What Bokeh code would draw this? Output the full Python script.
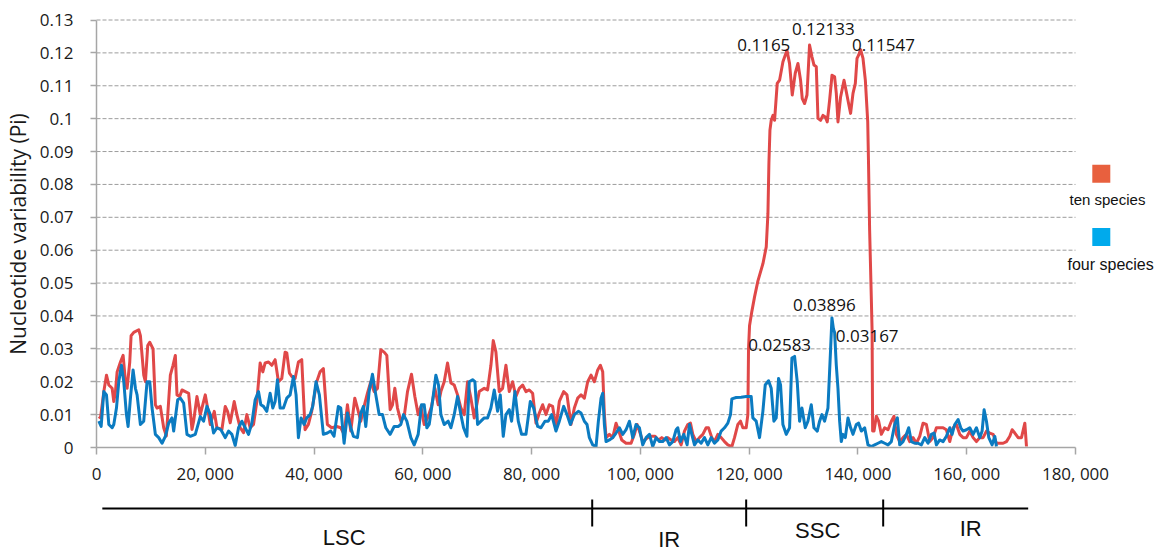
from bokeh.plotting import figure
from bokeh.models import Range1d, FixedTicker, ColumnDataSource
from bokeh.core.properties import value
from bokeh.embed import file_html
from bokeh.resources import INLINE

# ---------------- data ----------------
series_names = ["ten species", "four species"]

ten_pos = [
    428, 734, 1346, 1835, 2263, 2875, 3180, 3486, 3792, 4404,
    4893, 5321, 5627, 6116, 6361, 6850, 7767, 8073, 8685, 8991,
    9419, 9786, 10397, 10825, 11131, 11743, 12354, 12844, 13578, 14067,
    14495, 14801, 15290, 15718, 16330, 16941, 17553, 17859, 18470, 19082,
    19999, 20427, 20917, 21651, 22140, 23057, 23669, 24097, 24586, 25320,
    25810, 26421, 27033, 27644, 28256, 28868, 29479, 30091, 30580, 31008,
    31620, 32232, 32843, 33455, 34066, 34678, 34984, 35473, 35901, 36513,
    37124, 37736, 38347, 38959, 39570, 40488, 41100, 41712, 42446, 43241,
    44158,
    44911, 45525, 46138, 46752, 47488, 47979, 48592, 49206, 49819, 50433,
    51046, 51660, 52273, 52887, 53377, 53991, 54420, 54850, 55341, 55954,
    56568, 57181, 57917, 58531, 59144, 59635, 60249, 60985, 61598, 62212,
    62825, 63316, 63930, 64543, 65157, 65770, 66384, 66997, 67611, 68224,
    68838, 69451, 70371, 71292, 71905, 72519, 72948, 73439, 74052, 74666,
    75279, 75893, 76506, 77120, 77733, 78347, 78960, 79574, 80187, 80801,
    81414, 82028, 82641, 83255, 83868, 84482, 85095, 85893, 86506, 87243,
    87856, 88470,
    89085, 89699, 90312, 90926, 91539, 92153, 92643, 93073, 93380, 93686,
    94300, 94913, 95527, 95956, 96570, 97367, 98288, 98901, 99392, 99821,
    100435, 101355, 101969, 102705, 103318, 103932, 104545, 105036, 105650, 106263,
    106877, 107490, 108104, 108717, 109208, 109638, 110251, 110865, 111478, 112092,
    112521, 113135, 113625, 114239, 114852, 115466, 116079, 116815, 117306, 117920,
    118410, 118840, 119453, 119760, 119883, 120067, 120496,
    120990, 121600, 122530, 123140, 123450, 123630, 123820,
    124060, 124370, 124670, 125160, 125590, 126210, 126950, 127420, 127920, 128470,
    128970, 129450, 129760, 130190, 130630, 131100, 131550, 131920, 132340, 132650,
    133130, 133570, 134000, 134360, 134790, 135230, 135710, 136020, 136330, 136810,
    137440, 137860, 138280, 138650, 139090, 139520, 139830, 140120, 140490, 140930,
    141360, 141800,
    141950, 142150, 142450, 142600, 142700,
    142952, 143382, 143811, 144302, 144916, 145529, 146143, 146633, 147063, 147676,
    148290, 148903, 149517, 150130, 150744, 151357, 151971, 152584, 153198, 153811,
    154425, 155038, 155652, 156265, 156879, 157492, 158106, 158719, 159333, 159946,
    160560, 161173, 161787, 162400, 163014, 163627, 164241, 164854, 165468, 166081,
    166695, 167308, 167922, 168351, 168842, 169456, 170069, 170683, 170989,
]
ten_pi = [
    0.0094, 0.009, 0.017, 0.022, 0.019, 0.018, 0.014, 0.017, 0.023, 0.026,
    0.028, 0.020, 0.018, 0.026, 0.034, 0.035, 0.0358, 0.034, 0.022, 0.020,
    0.031, 0.032, 0.030, 0.013, 0.012, 0.0125, 0.006, 0.0035, 0.022, 0.025,
    0.028, 0.016, 0.0155, 0.0175, 0.017, 0.0165, 0.0055, 0.008, 0.0155, 0.010,
    0.016, 0.012, 0.007, 0.011, 0.006, 0.0055, 0.0125, 0.011, 0.0075, 0.014,
    0.010, 0.006, 0.0045, 0.010, 0.006, 0.007, 0.014, 0.0257, 0.023, 0.0257,
    0.026, 0.025, 0.0267, 0.020, 0.021, 0.029, 0.0288, 0.0226, 0.0216, 0.021,
    0.026, 0.0267, 0.0054, 0.007, 0.011, 0.020, 0.023, 0.024, 0.007, 0.006,
    0.0064,
    0.006, 0.004, 0.013, 0.005, 0.015, 0.012, 0.008, 0.0125, 0.0165, 0.020,
    0.017, 0.018, 0.0297, 0.029, 0.028, 0.0115, 0.013, 0.018, 0.012, 0.008,
    0.0094, 0.017, 0.0223, 0.0155, 0.010, 0.0125, 0.007, 0.0094, 0.0125, 0.018,
    0.013, 0.017, 0.020, 0.0257, 0.0196, 0.019, 0.016, 0.012, 0.010, 0.020,
    0.015, 0.009, 0.017, 0.018, 0.0175, 0.025, 0.0325, 0.029, 0.017, 0.018,
    0.025, 0.017, 0.020, 0.0155, 0.018, 0.019, 0.017, 0.0175, 0.0165, 0.0074,
    0.0105, 0.013, 0.010, 0.013, 0.0125, 0.006, 0.014, 0.017, 0.016, 0.007,
    0.012, 0.015,
    0.016, 0.015, 0.020, 0.022, 0.020, 0.0236, 0.025, 0.023, 0.010, 0.003,
    0.004, 0.003, 0.0074, 0.0054, 0.0023, 0.0013, 0.0013, 0.004, 0.007, 0.005,
    0.0018, 0.003, 0.0034, 0.0034, 0.0023, 0.003, 0.0023, 0.003, 0.0023, 0.0018,
    0.003, 0.0008, 0.005, 0.007, 0.0074, 0.004, 0.0018, 0.003, 0.004, 0.006,
    0.006, 0.003, 0.0018, 0.004, 0.003, 0.0018, 0.0008, 0.0003, 0.003, 0.007,
    0.008, 0.006, 0.006, 0.010, 0.030, 0.037, 0.0414,
    0.0458, 0.0506, 0.0559, 0.061, 0.0711, 0.0864, 0.0965,
    0.0995, 0.101, 0.0995, 0.1107, 0.1117, 0.1173, 0.1208, 0.1168, 0.1072, 0.1138,
    0.1168, 0.1117, 0.1061, 0.1046, 0.1072, 0.1224, 0.1188, 0.1163, 0.1158, 0.1001,
    0.0995, 0.101, 0.1005, 0.099, 0.1056, 0.1132, 0.1127, 0.1077, 0.099, 0.1066,
    0.1117, 0.1082, 0.1046, 0.1016, 0.1077, 0.1107, 0.1183, 0.1193, 0.121, 0.1183,
    0.1117, 0.099,
    0.086, 0.066, 0.046, 0.0356, 0.005,
    0.005, 0.0095, 0.008, 0.004, 0.006, 0.0054, 0.008, 0.0095, 0.004, 0.0018,
    0.003, 0.004, 0.0018, 0.003, 0.0013, 0.0034, 0.0074, 0.007, 0.0018, 0.003,
    0.006, 0.006, 0.006, 0.0054, 0.0018, 0.006, 0.007, 0.004, 0.003, 0.003,
    0.005, 0.003, 0.0018, 0.003, 0.003, 0.005, 0.0044, 0.004, 0.0013, 0.0013,
    0.0013, 0.0018, 0.0034, 0.0054, 0.0044, 0.003, 0.003, 0.0074, 0.0003,
]

four_pos = [
    428, 856, 1346, 1835, 2263, 2875, 3180, 3670, 4098, 4587,
    5015, 5504, 5810, 6239, 6728, 7156, 7462, 8073, 8685, 9296,
    9786, 10214, 10825, 11437, 12049, 12660, 13272, 13884, 14189, 14923,
    15412, 16024, 16636, 17247, 18165, 19082, 19694, 20305, 20917, 21528,
    22140, 22874, 23669, 24281, 24892, 25504, 26115, 26727, 27338, 27950,
    28562, 29173, 29785, 30213, 30703, 31314, 31926, 32415, 32843, 33271,
    33761, 34372, 34984, 35595, 36207, 36696, 37124, 37613, 38164, 38653,
    39265, 39754, 40366, 40977, 41712, 42446, 43057, 43669, 44464,
    44911, 45525, 46138, 46752, 47242, 47979, 48592, 49083, 49512, 50126,
    50739, 51353, 51966, 52580, 53193, 53991, 54727, 55463, 55954, 56445,
    57058, 57795, 58408, 59144, 59758, 60249, 60739, 61169, 61782, 62396,
    62887, 63316, 63930, 64665, 65157, 65770, 66384, 66997, 67488, 68102,
    68531, 69144, 69574, 70065, 70678, 71292, 71905, 72519, 73132, 73746,
    74236, 74788, 75279, 75893, 76322, 76936, 77549, 78163, 78960, 79758,
    80371, 81108, 81721, 82457, 83071, 83684, 84482, 85095, 85893, 86506,
    87120, 87856, 88592,
    89085, 89699, 90189, 90619, 91232, 91846, 92275, 92766, 93073, 93380,
    93686, 94300, 94913, 95527, 96140, 96754, 97367, 97981, 98594, 99208,
    99821, 100435, 101048, 101662, 102275, 102889, 103502, 104116, 104729, 105343,
    105956, 106570, 106877, 107367, 107981, 108594, 109024, 109453, 109944, 110558,
    111171, 111785, 112398, 113012, 113625, 114239, 114852, 115466, 116079, 116570,
    116815, 117613, 118533, 119453, 120374, 120680, 121294, 121907, 122521, 122950,
    123564, 124055, 124545, 124975, 125404, 125772, 126202, 126815, 127429, 127858,
    128349, 128840, 129269, 129699, 130312, 130803, 131417, 131907, 132521, 132950,
    133380, 133870,
    134484, 134975, 135220, 135500, 135713,
    136020, 136327, 136633, 136940, 137247, 137676, 138167, 138658, 139087, 139701,
    140130, 140621, 141235, 141848, 142462, 143075, 143689, 144302, 144916, 145529,
    146143, 146756, 147247, 147676, 148290, 148903, 149333, 149824, 150437, 151051,
    151664, 152278, 152891, 153505, 153995, 154425, 155038, 155652, 156265, 156879,
    157308, 157799, 158413, 158903, 159333, 159946, 160560, 161173, 161787, 162400,
    162830, 163198, 163627, 164057, 164670, 165161, 165468,
]
four_pi = [
    0.008, 0.0064, 0.017, 0.016, 0.007, 0.006, 0.007, 0.012, 0.020, 0.025,
    0.020, 0.010, 0.0064, 0.015, 0.0236, 0.018, 0.016, 0.007, 0.008, 0.020,
    0.020, 0.012, 0.004, 0.003, 0.0013, 0.0034, 0.0074, 0.009, 0.005, 0.0145,
    0.015, 0.0135, 0.004, 0.0034, 0.004, 0.0094, 0.008, 0.0125, 0.010, 0.0044,
    0.006, 0.0054, 0.003, 0.005, 0.004, 0.0006, 0.006, 0.008, 0.006, 0.004,
    0.0074, 0.0145, 0.017, 0.013, 0.0125, 0.011, 0.0165, 0.012, 0.014, 0.0206,
    0.012, 0.012, 0.015, 0.016, 0.0216, 0.016, 0.003, 0.009, 0.007, 0.009,
    0.010, 0.0125, 0.020, 0.016, 0.004, 0.0044, 0.005, 0.0034, 0.0125,
    0.012, 0.0013, 0.0105, 0.006, 0.0034, 0.003, 0.0105, 0.0125, 0.0064, 0.017,
    0.0223, 0.016, 0.010, 0.010, 0.006, 0.004, 0.0064, 0.0064, 0.007, 0.010,
    0.008, 0.003, 0.0008, 0.004, 0.013, 0.013, 0.006, 0.007, 0.014, 0.022,
    0.019, 0.010, 0.007, 0.008, 0.006, 0.010, 0.0155, 0.010, 0.006, 0.0034,
    0.020, 0.0206, 0.020, 0.007, 0.008, 0.009, 0.009, 0.012, 0.0175, 0.011,
    0.016, 0.0034, 0.010, 0.0115, 0.008, 0.017, 0.008, 0.004, 0.004, 0.014,
    0.012, 0.0064, 0.006, 0.008, 0.008, 0.010, 0.005, 0.008, 0.0125, 0.010,
    0.007, 0.010, 0.011,
    0.0105, 0.008, 0.007, 0.003, 0.0008, 0.0003, 0.008, 0.015, 0.0165, 0.007,
    0.0018, 0.0023, 0.003, 0.0044, 0.006, 0.004, 0.0054, 0.008, 0.003, 0.007,
    0.006, 0.0008, 0.003, 0.004, 0.0003, 0.003, 0.0018, 0.0018, 0.003, 0.0008,
    0.0018, 0.0054, 0.006, 0.0018, 0.004, 0.0008, 0.007, 0.004, 0.0008, 0.0023,
    0.0013, 0.003, 0.0008, 0.003, 0.0013, 0.0023, 0.005, 0.006, 0.0074, 0.010,
    0.0148, 0.0152, 0.0153, 0.0155, 0.0155, 0.009, 0.008, 0.003, 0.011, 0.019,
    0.0203, 0.018, 0.008, 0.009, 0.021, 0.019, 0.007, 0.004, 0.006, 0.0272,
    0.0277, 0.020, 0.008, 0.012, 0.006, 0.008, 0.013, 0.006, 0.005, 0.008,
    0.010, 0.008,
    0.012, 0.030, 0.0394, 0.036, 0.035,
    0.025, 0.018, 0.008, 0.0018, 0.004, 0.003, 0.009, 0.006, 0.004, 0.007,
    0.0074, 0.005, 0.006, 0.0008, 0.0003, 0.0008, 0.0013, 0.0018, 0.0013, 0.0008,
    0.0018, 0.007, 0.009, 0.0008, 0.0018, 0.004, 0.006, 0.0018, 0.0013, 0.0013,
    0.0008, 0.003, 0.0013, 0.004, 0.0044, 0.0008, 0.0023, 0.0018, 0.0034, 0.006,
    0.004, 0.007, 0.0085, 0.006, 0.005, 0.0054, 0.006, 0.004, 0.006, 0.003,
    0.005, 0.0115, 0.008, 0.003, 0.0008, 0.0034, 0.0003,
]

x_ticks = [0, 20000, 40000, 60000, 80000, 100000, 120000, 140000, 160000, 180000]
x_tick_labels = ["0", "20, 000", "40, 000", "60, 000", "80, 000", "100, 000",
                 "120, 000", "140, 000", "160, 000", "180, 000"]
y_ticks = [0, 0.01, 0.02, 0.03, 0.04, 0.05, 0.06, 0.07, 0.08, 0.09, 0.1, 0.11, 0.12, 0.13]
y_tick_labels = ["0", "0.01", "0.02", "0.03", "0.04", "0.05", "0.06", "0.07", "0.08",
                 "0.09", "0.1", "0.11", "0.12", "0.13"]

peak_labels = ["0.1165", "0.12133", "0.11547", "0.03896", "0.02583", "0.03167"]

region_names = ["LSC", "IR", "SSC", "IR"]
region_bounds = [1070, 91140, 119450, 144640, 171300]

# ---------------- layout (pixels) ----------------
W, H = 1161, 552
AXIS_LEFT_PX = 96
AXIS_RIGHT_PX = 1075
Y_ZERO_PX = 447
Y_TOP_PX = 19.5
X_MAX = 180000
Y_MAX = 0.13

px_per_x = (AXIS_RIGHT_PX - AXIS_LEFT_PX) / X_MAX
px_per_y = (Y_ZERO_PX - Y_TOP_PX) / Y_MAX


def X(px):
    return (px - AXIS_LEFT_PX) / px_per_x


def Y(py):
    return (Y_ZERO_PX - py) / px_per_y


RED = "#E04848"
BLUE = "#0B7BC1"
RED_KEY = "#E8603E"
BLUE_KEY = "#00AAEC"
GRID = "#9c9c9c"
AXIS = "#a6a6a6"
NUM_FONT = "Open Sans"
SANS = "Liberation Sans"

# the frame covers the whole canvas; both axes sit at fixed data positions
p = figure(width=W, height=H,
           x_range=Range1d(X(0), X(W)), y_range=Range1d(Y(H), Y(0)),
           min_border=0,
           output_backend="svg", toolbar_location=None)
p.outline_line_color = None
p.background_fill_color = "white"
p.border_fill_color = "white"
p.xgrid.visible = False
p.ygrid.visible = False

# dashed horizontal gridlines over the data area
g = y_ticks[1:]
p.segment(x0=[0] * len(g), x1=[X_MAX] * len(g), y0=g, y1=g,
          line_color=GRID, line_width=1, line_dash="4 2")

# x axis at y = 0
xa = p.xaxis[0]
xa.fixed_location = 0
xa.bounds = (0, X_MAX)
xa.ticker = FixedTicker(ticks=x_ticks)
xa.major_label_overrides = {t: l for t, l in zip(x_ticks, x_tick_labels)}
xa.minor_tick_line_color = None
xa.major_tick_in = 0
xa.major_tick_out = 7
xa.major_tick_line_color = AXIS
xa.major_tick_line_width = 1.5
xa.axis_line_color = AXIS
xa.axis_line_width = 1.5
xa.major_label_text_font = NUM_FONT
xa.major_label_text_font_size = "17px"
xa.major_label_text_color = "#1a1a1a"
xa.major_label_standoff = 7

# y axis at x = 0
ya = p.yaxis[0]
ya.fixed_location = 0
ya.bounds = (0, Y_MAX)
ya.ticker = FixedTicker(ticks=y_ticks)
ya.major_label_overrides = {t: l for t, l in zip(y_ticks, y_tick_labels)}
ya.minor_tick_line_color = None
ya.major_tick_in = 0
ya.major_tick_out = 6
ya.major_tick_line_color = AXIS
ya.major_tick_line_width = 1.5
ya.axis_line_color = AXIS
ya.axis_line_width = 1.5
ya.major_label_text_font = NUM_FONT
ya.major_label_text_font_size = "17px"
ya.major_label_text_color = "#1a1a1a"
ya.major_label_standoff = 17
ya.axis_label = "Nucleotide variability (Pi)"
ya.axis_label_text_font = NUM_FONT
ya.axis_label_text_font_style = "normal"
ya.axis_label_text_font_size = "21px"
ya.axis_label_text_color = "#1a1a1a"
ya.axis_label_standoff = 5

# series
p.line(ten_pos, ten_pi, line_color=RED, line_width=3, line_join="round")
p.line(four_pos, four_pi, line_color=BLUE, line_width=3, line_join="round")

# peak annotations (y = visual middle of the numbers)
ann = ColumnDataSource(dict(
    x=[X(763.3), X(822.8), X(883.0), X(823.8), X(779.2), X(866.7)],
    y=[Y(44.2), Y(28), Y(44.2), Y(304.2), Y(344.2), Y(335)],
    text=peak_labels,
))
p.text(x="x", y="y", text="text", source=ann, text_align="center",
       text_baseline="middle", text_font=value(NUM_FONT),
       text_font_size="17px", text_color="#111111")

# legend (square above its label)
p.scatter(x=[X(1100.8), X(1100.8)], y=[Y(173.2), Y(236.5)], marker="square",
          size=18, fill_color=[RED_KEY, BLUE_KEY], line_color=None)
p.text(x=[X(1069)], y=[Y(199)], text=[series_names[0]], text_align="left",
       text_baseline="middle", text_font=value(SANS), text_font_size="15px",
       text_color="#111111")
p.text(x=[X(1067)], y=[Y(264)], text=[series_names[1]], text_align="left",
       text_baseline="middle", text_font=value(SANS), text_font_size="16px",
       text_color="#111111")

# genome region bar below the axis
p.segment(x0=[region_bounds[0]], x1=[region_bounds[-1]], y0=[Y(508)], y1=[Y(508)],
          line_color="black", line_width=2)
inner = region_bounds[1:-1]
p.segment(x0=inner, x1=inner, y0=[Y(499)] * len(inner), y1=[Y(526)] * len(inner),
          line_color="black", line_width=2)
mids = [(a + b) / 2 for a, b in zip(region_bounds[:-1], region_bounds[1:])]
reg = ColumnDataSource(dict(
    x=mids,
    y=[Y(536.7), Y(539), Y(530), Y(527.5)],
    text=region_names,
    dx=[-3, 0, 3, 15],
))
p.text(x="x", y="y", text="text", x_offset="dx", source=reg, text_align="center",
       text_baseline="middle", text_font=value(SANS), text_font_size="22px",
       text_color="#111111")

open("out.html", "w").write(file_html(p, INLINE))
